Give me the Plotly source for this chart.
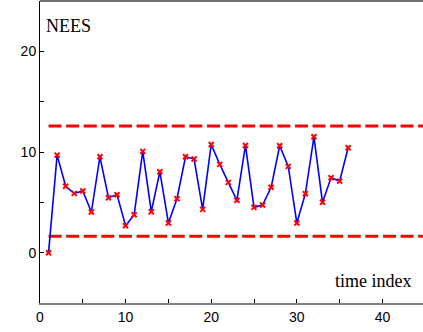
import plotly.graph_objects as go

time_index = list(range(1, 37))
nees = [0.0, 9.69, 6.59, 5.89, 6.12, 4.04, 9.52, 5.46, 5.75, 2.68,
        3.77, 10.06, 4.07, 8.04, 2.95, 5.36, 9.52, 9.30, 4.30, 10.75,
        8.77, 6.98, 5.20, 10.65, 4.50, 4.73, 6.49, 10.62, 8.57, 2.95,
        5.86, 11.51, 5.00, 7.44, 7.11, 10.42]
bound_x = [1, 45]
upper_bound = [12.59, 12.59]
lower_bound = [1.635, 1.635]

x_ticks = [0, 10, 20, 30, 40]
y_ticks = [0, 10, 20]

fig = go.Figure()
dash_style = dict(color="red", width=3, dash="13px,4.6px")
fig.add_trace(go.Scatter(x=bound_x, y=upper_bound, mode="lines", line=dash_style,
                         hoverinfo="skip"))
fig.add_trace(go.Scatter(x=bound_x, y=lower_bound, mode="lines", line=dash_style,
                         hoverinfo="skip"))
fig.add_trace(go.Scatter(x=time_index, y=nees, mode="lines+markers",
                         line=dict(color="blue", width=1.6),
                         marker=dict(symbol="x-thin", size=5, color="red",
                                     line=dict(color="red", width=2))))

fig.update_layout(
    width=423, height=332,
    margin=dict(l=40, r=0, t=1, b=29),
    plot_bgcolor="white", paper_bgcolor="white",
    showlegend=False,
    font=dict(family="Liberation Sans, Arial, sans-serif", size=14, color="black"),
)
fig.update_xaxes(range=[0, 44.74], tickvals=x_ticks, ticks="inside", ticklen=4,
                 tickcolor="black", showgrid=False, zeroline=False,
                 showline=True, linecolor="#808080", linewidth=2,
                 minor=dict(tickvals=[5, 15, 25, 35], ticks="inside", ticklen=4,
                            tickcolor="black"),
                 mirror=False)
fig.update_yaxes(range=[-5, 25], tickvals=y_ticks, ticks="inside", ticklen=4,
                 tickcolor="black", showgrid=False, zeroline=False,
                 showline=True, linecolor="black", linewidth=1,
                 minor=dict(tickvals=[-5, 5, 15], ticks="inside", ticklen=4,
                            tickcolor="black"))
# top border
fig.add_shape(type="line", xref="paper", yref="paper", x0=0, x1=1, y0=1, y1=1,
              line=dict(color="#404040", width=1.5))

fig.add_annotation(text="NEES", xref="paper", yref="paper", x=0.011, y=0.916,
                   xanchor="left", yanchor="middle", showarrow=False,
                   font=dict(family="Liberation Serif, Times New Roman, serif", size=18))
fig.add_annotation(text="time index", xref="paper", yref="paper", x=0.973, y=0.073,
                   xanchor="right", yanchor="middle", showarrow=False,
                   font=dict(family="Liberation Serif, Times New Roman, serif", size=18))

fig.write_html("out.html", config={"displayModeBar": False},
               post_script="document.body.style.margin='0';document.body.style.padding='0';")
